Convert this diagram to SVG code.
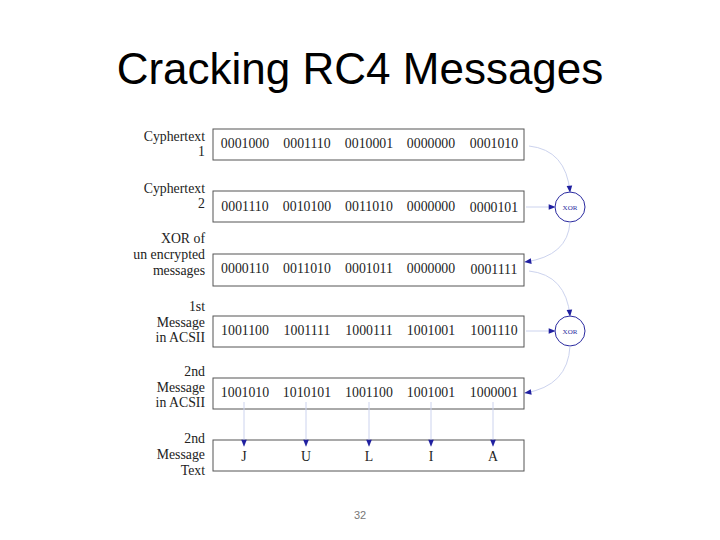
<svg xmlns="http://www.w3.org/2000/svg" width="720" height="540" viewBox="0 0 720 540">
<defs>
<style>
.title{font-family:"Liberation Sans",Arial,sans-serif;font-size:44px;fill:#000}
.lbl{font-family:"Liberation Serif","Times New Roman",serif;font-size:13.8px;fill:#222;text-anchor:end}
.val{font-family:"Liberation Serif","Times New Roman",serif;font-size:13.8px;fill:#222;text-anchor:middle}
.box{fill:#fff;stroke:#555;stroke-width:1}
.xor{fill:#fff;stroke:#2a2aa0;stroke-width:1}
.xt{font-family:"Liberation Serif","Times New Roman",serif;font-size:7px;fill:#2a2aa0;text-anchor:middle}
.con{fill:none;stroke:#ccd3ee;stroke-width:1;marker-end:url(#ah)}
.pg{font-family:"Liberation Sans",Arial,sans-serif;font-size:11px;fill:#777;text-anchor:middle}
</style>
<marker id="ah" viewBox="0 0 10 10" refX="9" refY="5" markerWidth="8" markerHeight="7" markerUnits="userSpaceOnUse" orient="auto">
<path d="M0,1 L10,5 L0,9 z" fill="#2020a0"/>
</marker>
</defs>
<text class="title" x="360" y="84" text-anchor="middle">Cracking RC4 Messages</text>

<g id="row1">
<text class="lbl" x="205" y="141">Cyphertext</text>
<text class="lbl" x="205" y="156">1</text>
<rect class="box" x="213" y="129" width="311" height="31"/>
<text class="val" x="245" y="148">0001000</text>
<text class="val" x="307" y="148">0001110</text>
<text class="val" x="369" y="148">0010001</text>
<text class="val" x="431" y="148">0000000</text>
<text class="val" x="494" y="148">0001010</text>
</g>
<g id="row2">
<text class="lbl" x="205" y="193">Cyphertext</text>
<text class="lbl" x="205" y="208">2</text>
<rect class="box" x="213" y="191" width="311" height="31"/>
<text class="val" x="245" y="211">0001110</text>
<text class="val" x="307" y="211">0010100</text>
<text class="val" x="369" y="211">0011010</text>
<text class="val" x="431" y="211">0000000</text>
<text class="val" x="494" y="212">0000101</text>
</g>
<g id="row3">
<text class="lbl" x="205" y="243">XOR of</text>
<text class="lbl" x="205" y="259">un encrypted</text>
<text class="lbl" x="205" y="275">messages</text>
<rect class="box" x="213" y="254" width="311" height="32"/>
<text class="val" x="245" y="273">0000110</text>
<text class="val" x="307" y="273">0011010</text>
<text class="val" x="369" y="273">0001011</text>
<text class="val" x="431" y="273">0000000</text>
<text class="val" x="494" y="274">0001111</text>
</g>
<g id="row4">
<text class="lbl" x="205" y="311">1st</text>
<text class="lbl" x="205" y="327">Message</text>
<text class="lbl" x="205" y="342">in ACSII</text>
<rect class="box" x="213" y="316" width="311" height="31"/>
<text class="val" x="245" y="335">1001100</text>
<text class="val" x="307" y="335">1001111</text>
<text class="val" x="369" y="335">1000111</text>
<text class="val" x="431" y="335">1001001</text>
<text class="val" x="494" y="335">1001110</text>
</g>
<g id="row5">
<text class="lbl" x="205" y="376">2nd</text>
<text class="lbl" x="205" y="392">Message</text>
<text class="lbl" x="205" y="407">in ACSII</text>
<rect class="box" x="213" y="378" width="311" height="31"/>
<text class="val" x="245" y="397">1001010</text>
<text class="val" x="307" y="397">1010101</text>
<text class="val" x="369" y="397">1001100</text>
<text class="val" x="431" y="397">1001001</text>
<text class="val" x="494" y="397">1000001</text>
</g>
<g id="row6">
<text class="lbl" x="205" y="443">2nd</text>
<text class="lbl" x="205" y="459">Message</text>
<text class="lbl" x="205" y="475">Text</text>
<rect class="box" x="213" y="440" width="311" height="31"/>
<text class="val" x="244" y="461">J</text>
<text class="val" x="306" y="461">U</text>
<text class="val" x="369" y="461">L</text>
<text class="val" x="431" y="461">I</text>
<text class="val" x="493" y="461">A</text>
</g>
<g id="xor1">
<circle class="xor" cx="570" cy="207" r="15"/>
<text class="xt" x="570" y="210">XOR</text>
</g>
<g id="xor2">
<circle class="xor" cx="570" cy="331" r="15"/>
<text class="xt" x="570" y="334">XOR</text>
</g>
<g id="connectors">
<path class="con" d="M529,146 Q566,150 570,192"/>
<path class="con" d="M526,207 L555,207"/>
<path class="con" d="M570,222 Q568,256 525,262"/>
<path class="con" d="M529,271 Q566,275 570,316"/>
<path class="con" d="M526,331 L555,331"/>
<path class="con" d="M570,346 Q568,386 525,393"/>
<path class="con" d="M244,402 L244,446"/>
<path class="con" d="M306,402 L306,446"/>
<path class="con" d="M369,402 L369,446"/>
<path class="con" d="M431,402 L431,446"/>
<path class="con" d="M493,402 L493,446"/>
</g>
<text class="pg" x="360" y="519">32</text>
</svg>
